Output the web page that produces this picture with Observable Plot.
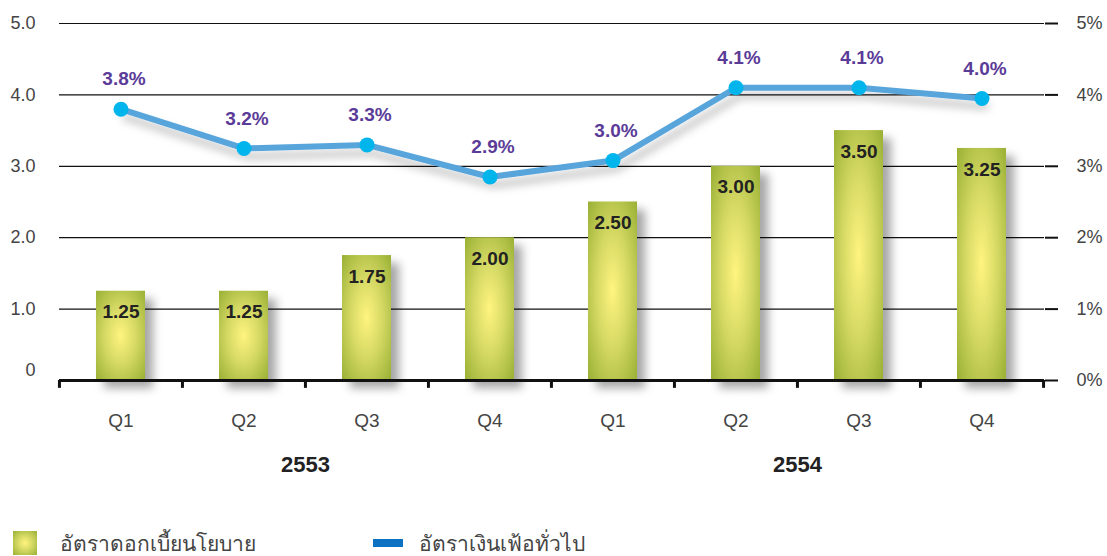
<!DOCTYPE html>
<html>
<head>
<meta charset="utf-8">
<script src="https://cdn.jsdelivr.net/npm/d3@7"></script>
<script src="https://cdn.jsdelivr.net/npm/@observablehq/plot@0.6"></script>
<style>
  body { margin: 0; background: #fff; font-family: "Liberation Sans", Arial, sans-serif; }
  #chart svg { display: block; }
  .legend { position: relative; height: 36px; width: 1107px; }
  .legend .item { position: absolute; top: 11px; display: flex; align-items: center; font-family: "Noto Sans", "Liberation Sans", sans-serif; font-size: 21px; color: #444; line-height: 24px; }
  .sw1 { width: 24px; height: 24px; background: radial-gradient(circle at 50% 50%, #fff47f 0%, #d3d862 45%, #98b034 100%); margin-right: 23px; }
  .sw2 { width: 30px; height: 8px; background: #0a72c0; margin-right: 16px; }
</style>
</head>
<body>
<div id="chart"></div>
<div class="legend">
  <div class="item" style="left:13px"><span class="sw1"></span><span>อัตราดอกเบี้ยนโยบาย</span></div>
  <div class="item" style="left:373px"><span class="sw2"></span><span>อัตราเงินเฟ้อทั่วไป</span></div>
</div>
<script>
const categories = ["2553-Q1","2553-Q2","2553-Q3","2553-Q4","2554-Q1","2554-Q2","2554-Q3","2554-Q4"];
const quarterLabels = ["Q1","Q2","Q3","Q4","Q1","Q2","Q3","Q4"];
const policyRate = [1.25, 1.25, 1.75, 2.00, 2.50, 3.00, 3.50, 3.25];
const policyLabels = ["1.25","1.25","1.75","2.00","2.50","3.00","3.50","3.25"];
const inflation = [3.8, 3.25, 3.3, 2.85, 3.08, 4.1, 4.1, 3.95];
const inflationLabels = ["3.8%","3.2%","3.3%","2.9%","3.0%","4.1%","4.1%","4.0%"];
const years = ["2553","2554"];
const leftTicks = [1, 2, 3, 4, 5];
const leftTickLabels = ["1.0","2.0","3.0","4.0","5.0"];
const rightTicks = [0, 1, 2, 3, 4, 5];
const rightTickLabels = ["0%","1%","2%","3%","4%","5%"];

const data = categories.map((c, i) => ({
  cat: c, q: quarterLabels[i], rate: policyRate[i], rateLabel: policyLabels[i],
  infl: inflation[i], inflLabel: inflationLabels[i]
}));
const yearData = years.map(y => ({year: y, cat: y + "-Q3"}));

const W = 1107, H = 520, mL = 59, mR = 63;
const step = (W - mL - mR) / categories.length;

const svg = Plot.plot({
  width: W,
  height: H,
  marginLeft: mL,
  marginRight: mR,
  marginTop: 23,
  marginBottom: H - 380,
  style: {fontFamily: "'Liberation Sans', Arial, sans-serif", background: "#fff"},
  x: {type: "band", domain: categories, paddingInner: 0.6, paddingOuter: 0.3, label: null},
  y: {domain: [0, 5], label: null},
  marks: [
    Plot.ruleY(leftTicks, {stroke: "#111", strokeWidth: 1.2}),
    // left axis
    Plot.axisY(leftTicks, {anchor: "left", label: null, tickSize: 0, tickPadding: 24, tickFormat: (d, i) => leftTickLabels[i], fontSize: 18, fill: "#444"}),
    Plot.axisY([0], {anchor: "left", label: null, tickSize: 0, tickPadding: 24, tickFormat: () => "0", fontSize: 18, fill: "#444", dy: -10}),
    // right axis
    Plot.axisY(rightTicks, {anchor: "right", label: null, tickSize: 13, tickPadding: 19, tickFormat: (d, i) => rightTickLabels[i], fontSize: 18, fill: "#444", stroke: "#111", strokeWidth: 2}),
    // bars
    Plot.barY(data, {x: "cat", y: "rate", fill: "url(#barGrad)"}),
    Plot.ruleY([0], {stroke: "#111", strokeWidth: 3}),
    // boundary ticks on x baseline
    Plot.ruleX(data, {x: "cat", y1: 0, y2: -0.11, dx: -step / 2, stroke: "#111", strokeWidth: 3}),
    Plot.ruleX([categories[categories.length - 1]], {x: d => d, y1: 0, y2: -0.11, dx: step / 2, stroke: "#111", strokeWidth: 3}),
    // x axis labels
    Plot.axisX({label: null, tickSize: 0, tickPadding: 33, tickFormat: d => d.split("-")[1], fontSize: 19, fill: "#444"}),
    // year labels
    Plot.text(yearData, {x: "cat", text: "year", frameAnchor: "bottom", dx: -step / 2, dy: 91, fontSize: 22, fontWeight: "bold", fill: "#222"}),
    // bar labels
    Plot.text(data, {x: "cat", y: "rate", text: "rateLabel", dy: 21, fontSize: 19, fontWeight: 600, fill: "#222"}),
    // inflation line
    Plot.line(data, {x: "cat", y: "infl", stroke: "#58a5dc", strokeWidth: 6, className: "infl-line"}),
    Plot.dot(data, {x: "cat", y: "infl", r: 7.5, fill: "#00b4ec", stroke: "none"}),
    Plot.text(data, {x: "cat", y: "infl", text: "inflLabel", dy: -30, dx: 3, fontSize: 19, fontWeight: "bold", fill: "#5b3b98"})
  ]
});

svg.insertAdjacentHTML("afterbegin", `
<defs>
  <radialGradient id="barGrad" cx="0.5" cy="0.5" r="0.72" fx="0.5" fy="0.5">
    <stop offset="0%" stop-color="#fff47f"/>
    <stop offset="45%" stop-color="#d5d964"/>
    <stop offset="100%" stop-color="#96ae32"/>
  </radialGradient>
  <filter id="shadow" x="-30%" y="-30%" width="180%" height="180%">
    <feDropShadow dx="8" dy="8" stdDeviation="5" flood-color="#000" flood-opacity="0.35"/>
  </filter>
  <filter id="lshadow" x="-10%" y="-30%" width="130%" height="200%">
    <feDropShadow dx="4" dy="8" stdDeviation="4" flood-color="#000" flood-opacity="0.25"/>
  </filter>
</defs>`);

svg.querySelectorAll("rect").forEach(r => {
  if (r.getAttribute("fill") === "url(#barGrad)" || (r.parentNode && r.parentNode.getAttribute("fill") === "url(#barGrad)")) {
    r.setAttribute("filter", "url(#shadow)");
  }
});
svg.querySelectorAll(".infl-line").forEach(g => g.setAttribute("filter", "url(#lshadow)"));

document.getElementById("chart").appendChild(svg);
</script>
</body>
</html>
